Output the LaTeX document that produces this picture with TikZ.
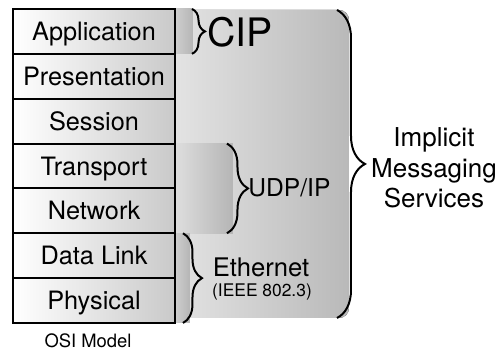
\documentclass[tikz,border=0pt]{standalone}
\usepackage{fontspec}
\setmainfont{TeX Gyre Heros}
\usetikzlibrary{positioning,decorations.pathreplacing,backgrounds}

\begin{document}
\begin{tikzpicture}[x=0.5pt,y=-0.5pt,
  layer/.style={draw,line width=1pt,minimum width=81pt,minimum height=22.43pt,
    inner sep=0pt,outer sep=0pt,left color=white,right color=gray!42,
    text height=9.1pt,text depth=0pt,font=\fontsize{12.65}{15}\selectfont},
  band/.style={left color=gray!#1,right color=gray!58},
  bracket/.style={decorate,decoration={brace,amplitude=#1},line width=1pt}]
\useasboundingbox (0,0) rectangle (500,358);

% the seven layers
\node[layer] (app) at (94,31.4) {Application};
\node[layer,below=0pt of app]   (pres)  {Presentation};
\node[layer,below=0pt of pres]  (sess)  {Session};
\node[layer,below=0pt of sess]  (trans) {Transport};
\node[layer,below=0pt of trans] (net)   {Network};
\node[layer,below=0pt of net]   (link)  {Data Link};
\node[layer,below=0pt of link]  (phys)  {Physical};

% grey areas behind the braces
\begin{pgfonlayer}{background}
\fill[left color=gray!22,right color=gray!55,rounded corners=5pt]
  ([yshift=-0.5pt]app.north east) rectangle ([xshift=87pt,yshift=2.5pt]phys.south east);
\fill[band=38] (app.north east) rectangle ([xshift=9pt]app.south east);
\fill[band=26] (trans.north east) rectangle ([xshift=29pt]net.south east);
\fill[band=38] (link.north east) rectangle ([xshift=7.5pt]phys.south east);
\end{pgfonlayer}

% braces
\draw[bracket=6.5pt]  ([xshift=8.5pt]app.north east) -- ([xshift=8.5pt]app.south east);
\draw[bracket=10.5pt] ([xshift=26pt]trans.north east) -- ([xshift=26pt]net.south east);
\draw[bracket=9.5pt]  ([xshift=4pt]link.north east) -- ([xshift=4pt]phys.south east);
\draw[bracket=14pt]   ([xshift=81pt,yshift=-0.5pt]app.north east) -- ([xshift=81pt,yshift=2.5pt]phys.south east);

% labels
\node[anchor=base,inner sep=0pt,font=\fontsize{19.6}{22}\selectfont] (cip) at (240,47) {CIP};
\node[anchor=base west,inner sep=0pt,font=\fontsize{12.3}{15}\selectfont] (udp) at (248,197) {UDP/IP};
\node[anchor=base,inner sep=0pt,font=\fontsize{12.8}{15}\selectfont] (eth) at (261,277) {Ethernet};
\node[anchor=base,inner sep=0pt,font=\fontsize{8.7}{10}\selectfont] (ieee) at (262,297) {(IEEE 802.3)};
\node[align=center,inner sep=0pt,font=\fontsize{13}{15.2}\selectfont] (ims) at (434,168)
  {Implicit\\Messaging\\Services};
\node[anchor=base,inner sep=0pt,font=\fontsize{9.2}{11}\selectfont] (osi) at (88,348) {OSI Model};
\end{tikzpicture}
\end{document}
